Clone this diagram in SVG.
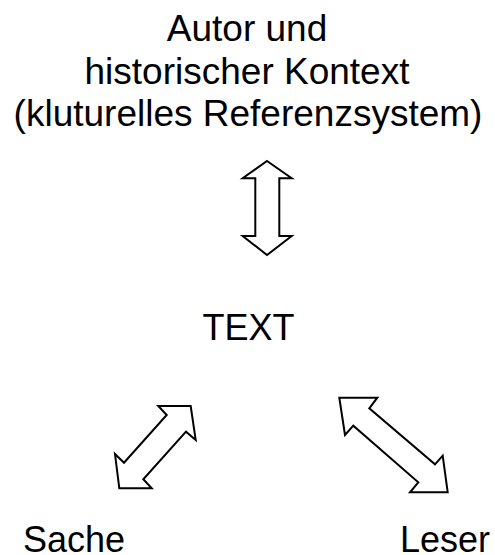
<svg xmlns="http://www.w3.org/2000/svg" width="495" height="555" viewBox="0 0 495 555">
<style>
.t{font-family:"Liberation Sans",Arial,sans-serif;font-size:36px;fill:#000}
.h{font-size:37px}
.ar{fill:#fff;stroke:#000;stroke-width:2;stroke-linejoin:miter}
</style>
<rect width="495" height="555" fill="#fff"/>
<g id="autor">
<text class="t h" x="247" y="41" text-anchor="middle">Autor und</text>
<text class="t h" x="247" y="83.5" text-anchor="middle">historischer Kontext</text>
<text class="t h" x="248" y="126" text-anchor="middle">(kluturelles Referenzsystem)</text>
</g>
<g id="text"><text class="t" x="248.5" y="340" text-anchor="middle">TEXT</text></g>
<g id="sache"><text class="t" x="23" y="552">Sache</text></g>
<g id="leser"><text class="t" x="490" y="552" text-anchor="end">Leser</text></g>
<g id="connectors">
<polygon class="ar" points="267,161 291.7,178.3 279.3,178.3 279.3,236 291.7,236 267,255 242.7,236 255.3,236 255.3,178.3 242.7,178.3"/>
<polygon class="ar" points="158.3,406 190.7,406 195.7,440 186,431.7 143.3,479.3 151.7,488.3 119.3,488.3 115,454 124,462.7 166.7,415"/>
<polygon class="ar" points="339.3,397.7 377.3,397.7 369.3,408.3 435,464.3 442.7,455.7 447.7,492.3 410,492.3 418.3,482.3 353.3,425.7 345,435"/>
</g>
</svg>
